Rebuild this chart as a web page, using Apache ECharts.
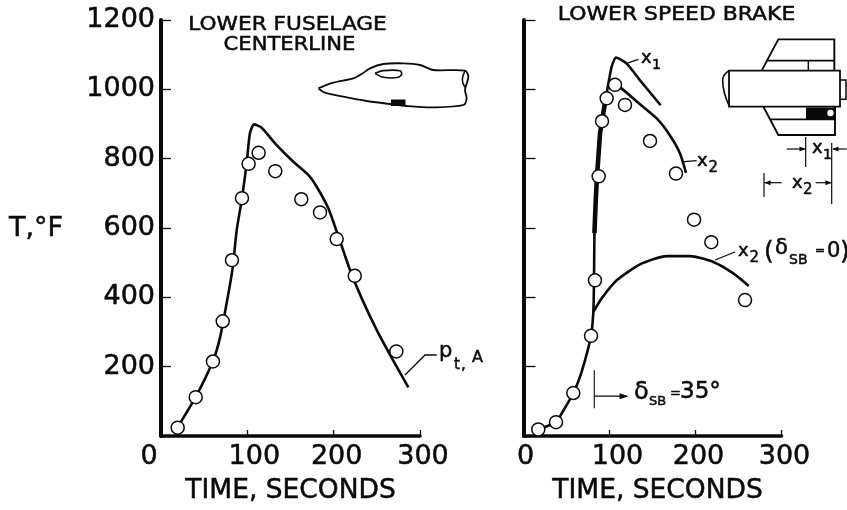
<!DOCTYPE html>
<html><head><meta charset="utf-8">
<style>html,body{margin:0;padding:0;background:#fff}#c{width:847px;height:510px}</style>
<script src="https://cdn.jsdelivr.net/npm/echarts@6/dist/echarts.min.js"></script>
</head><body><div id="c"></div>
<script>
// ---- data ----
const xTicks = [0, 100, 200, 300];
const yTicks = [0, 200, 400, 600, 800, 1000, 1200];

const fuselageCurveTime = [19,40,60,68.3,76.7,83,87.7,93.8,99.2,103,107.7,116.6,134,153.3,170.6,180.3,193.8,204.2,218.9,232.5,249.8,265.3,286.5];
const fuselageCurveTemp = [24,112,215,283,392,485,594,686,786,873,899,889,839,791,753,719,657,585,479,397,306,234,140];
const fuselagePointTime = [19.3,40.2,60.2,71.5,82.2,93.8,101.5,113.1,132.4,162.5,184.2,203.5,224.4,272.6];
const fuselagePointTemp = [24,112,215,331,507,686,785,817,764,683,645,568,462,244];

const riseTime = [17,38,44.4,58,67.6,78.5,81.2,82,82.5,84,85.5,89,96];
const riseTemp = [19,40,65,124,185,289,358,449,585,680,750,873,978];
const thickTime = [82.5,84,85.5,89,95];
const thickTemp = [585,680,750,873,965];
const x1Time = [96,102.5,107.6,120,135.5,159.5];
const x1Temp = [978,1065,1092,1074,1026,954];
const x2Time = [100,106.4,114.2,135.5,154.9,170.3,182,189];
const x2Temp = [1000,1013,1002,957,916,867,815,759];
const x2NoBrakeTime = [81.2,90.9,108.4,135.5,166.5,193.6,220.7,244,261.9];
const x2NoBrakeTemp = [358,397,449,495,519,519,502,469,433];
const brakePointTime = [17.2,37.8,57.9,78.5,83.1,87.4,91.3,96.7,106.4,118,147.1,177.3,198.3,218.4,257.6];
const brakePointTemp = [19,40,124,289,449,749,908,974,1013,955,851,757,624,559,392];
const brakeDeployMarkTime = [82.3,82.3];
const brakeDeployMarkTemp = [190,80];
const brakeArrowTime = [82.3,120];
const brakeArrowTemp = [115,115];

const zip = (a,b)=>a.map((v,i)=>[v,b[i]]);
const FONT = '"DejaVu Sans"';
const INK = '#0a0a0a';

const leftXShift = {0:-12,100:7,200:3,300:3};
const rightXShift = {0:2,100:8,200:3,300:3};
function xAxisFor(idx, shift, nameShift){
  const rich = {};
  xTicks.forEach(v=>{
    const s = shift[v]*2;
    rich['t'+v] = {fontFamily:FONT,fontSize:27,color:INK,textBorderColor:INK,textBorderWidth:0.5,
      padding:s>0?[0,0,0,s]:[0,-s,0,0]};
  });
  return {gridIndex:idx,type:'value',min:0,max:300,interval:100,
    axisLine:{show:true,onZero:false,lineStyle:{color:INK,width:3.5}},
    axisTick:{show:true,inside:true,length:6,lineStyle:{color:INK,width:1.3}},
    splitLine:{show:false},
    axisLabel:{margin:7,formatter:v=>'{t'+v+'|'+v+'}',rich:rich,showMinLabel:true,showMaxLabel:true},
    name:'TIME, SECONDS',nameLocation:'middle',nameGap:42,
    nameTextStyle:{fontFamily:FONT,fontSize:26.5,color:INK,textBorderColor:INK,textBorderWidth:0.5,padding:[0,0,0,nameShift]}};
}
function yAxisFor(idx, labels, tick){
  return {gridIndex:idx,type:'value',min:0,max:1200,interval:200,
    axisLine:{show:true,onZero:false,lineStyle:{color:INK,width:4}},
    axisTick:{show:true,inside:true,length:tick,lineStyle:{color:INK,width:1.3}},
    splitLine:{show:false},
    axisLabel:{show:labels,margin:6,fontFamily:FONT,fontSize:27,color:INK,textBorderColor:INK,textBorderWidth:0.5,
      formatter:v=>yTicks.includes(v)&&v!==0?String(v):''}};
}
const lineS=(x,d,w,z)=>({type:'line',xAxisIndex:x,yAxisIndex:x,data:d,symbol:'none',smooth:0.2,
  lineStyle:{color:INK,width:w||2.6},z:z||3,silent:true});
const pointS=(x,d)=>({type:'scatter',xAxisIndex:x,yAxisIndex:x,data:d,symbol:'circle',symbolSize:13,
  itemStyle:{color:'#fff',borderColor:INK,borderWidth:1.5,opacity:1},z:6,silent:true});

// ---- line-art illustration helpers ----
const P=(pts,ox,oy)=>pts.map(p=>[ox+p[0]/3,oy+p[1]/3]);
const pl=(pts,w,smooth,fill)=>({type:'polyline',shape:{points:pts,smooth:smooth||0},
  style:{stroke:INK,lineWidth:w||1.6,fill:fill||null},z:10,silent:true});
const tx=(x,y,text,size,align,sx)=>({type:'text',x:x,y:y,z:11,silent:true,scaleX:sx||1,
  style:{text:text,fontFamily:FONT,fontSize:size,fill:INK,stroke:INK,lineWidth:0.5,align:align||'left',verticalAlign:'middle'}});
const rect=(x,y,w,h,fill)=>({type:'rect',shape:{x:x,y:y,width:w,height:h},style:{fill:fill||'#fff',stroke:fill?null:INK,lineWidth:1.8},z:10,silent:true});
const arrow=(x,y,dir)=>({type:'polygon',shape:{points:[[x,y],[x-dir*6,y-2.5],[x-dir*6,y+2.5]]},style:{fill:INK},z:11,silent:true});

const graphic=[
  tx(9,229,'T,°F',27),
  tx(287.5,25.5,'LOWER FUSELAGE',19,'center',1.14),
  tx(289.5,45,'CENTERLINE',19,'center',1.11),
  tx(676.5,15,'LOWER SPEED BRAKE',19,'center',1.153),
  // side-view aircraft
  pl(P([[955,265],[1000,248],[1060,235],[1085,222],[1110,205],[1150,192],[1210,190],[1260,195],[1300,210],[1395,212],[1405,230],[1395,270],[1400,295],[1390,315],[1300,322],[1220,318],[1170,312],[1100,303],[1030,290],[975,278],[955,265]],0,0),1.8,0.3),
  pl(P([[1125,220],[1150,212],[1200,212],[1205,222],[1195,232],[1150,232],[1125,220]],0,0),1.6,0.3),
  pl(P([[1395,212],[1387,240],[1395,262]],0,0),1.5,0.4),
  rect(391,99.5,14.5,6.5,INK),
  // top-view aircraft
  pl(P([[785,212],[835,118],[1003,118],[1003,212]],500,0),1.9),
  pl(P([[800,182],[1003,182]],500,0),1.6),
  pl(P([[925,182],[925,212]],500,0),1.5),
  pl(P([[790,320],[835,405],[1005,405],[1005,320]],500,0),1.9),
  pl(P([[812,358],[1005,358]],500,0),1.6),
  rect(729,70.7,111,36),
  pl(P([[687,212],[668,240],[687,316]],500,0),1.6,0.5),
  pl(P([[1020,240],[1038,240],[1038,298],[1020,298]],500,0),1.5),
  rect(806,107.5,30,12,INK),
  {type:'circle',shape:{cx:830.5,cy:113,r:3.2},style:{fill:'#fff'},z:12,silent:true},
  // dimension marks
  pl([[805.7,137],[805.7,167]],1.2),
  pl([[831.7,143],[831.7,204]],1.2),
  pl([[764,173],[764,197]],1.2),
  pl([[786.7,149],[805,149]],1.2), arrow(805.5,149,1),
  pl([[846.7,149],[833,149]],1.2), arrow(832.5,149,-1),
  pl([[764.5,182.7],[781.7,182.7]],1.2), arrow(764.5,182.7,-1),
  pl([[815.7,182.7],[831,182.7]],1.2), arrow(831.5,182.7,1),
  // leaders
  pl(P([[380,190],[415,178]],500,0),1.3),
  pl(P([[552,485],[590,482]],500,0),1.3),
  pl([[715,260],[735,252]],1.3),
  pl([[405,375],[425,355],[436.7,355]],1.3),
  // curve labels
  tx(641,58,'x',18), tx(652,65,'1',14),
  tx(697,161,'x',18), tx(708.5,168,'2',15),
  tx(738,251,'x',18), tx(749.5,258,'2',15),
  tx(764,252,'(',25),
  tx(775,249,'δ',21),
  tx(789,260,'SB',14),
  tx(815,251,'=',12),
  tx(827,252,'0',21),
  tx(840,252,')',25),
  tx(812,148,'x',18), tx(823,155,'1',14),
  tx(792,183,'x',18), tx(803,190,'2',15),
  tx(439,352,'p',21),
  tx(454,365,'t',15),
  tx(461,365,',',15),
  tx(472,358,'A',16),
  tx(634,393,'δ',24),
  tx(649,402,'SB',13),
  tx(670,394,'=',13),
  tx(680,392,'35°',23),
];

const chart=echarts.init(document.getElementById('c'),null,{renderer:'canvas'});
chart.setOption({
  animation:false,backgroundColor:'#fff',
  grid:[{left:161,right:427,top:20,bottom:74,containLabel:false,outerBoundsMode:'none'},
        {left:523.5,right:65.5,top:20,bottom:74,containLabel:false,outerBoundsMode:'none'}],
  xAxis:[xAxisFor(0,leftXShift,0),xAxisFor(1,rightXShift,10)],
  yAxis:[yAxisFor(0,true,10),yAxisFor(1,false,12)],
  series:[
    lineS(0,zip(fuselageCurveTime,fuselageCurveTemp)),
    pointS(0,zip(fuselagePointTime,fuselagePointTemp)),
    lineS(1,zip(riseTime,riseTemp)),
    Object.assign(lineS(1,zip(thickTime,thickTemp),4.6),{smooth:false}),
    lineS(1,zip(x1Time,x1Temp)),
    lineS(1,zip(x2Time,x2Temp)),
    lineS(1,zip(x2NoBrakeTime,x2NoBrakeTemp)),
    Object.assign(lineS(1,zip(brakeDeployMarkTime,brakeDeployMarkTemp),1.1),{smooth:false}),
    Object.assign(lineS(1,zip(brakeArrowTime,brakeArrowTemp),1.1),{smooth:false,
      markPoint:{silent:true,symbol:'triangle',symbolSize:[6,9],symbolRotate:-90,itemStyle:{color:INK},label:{show:false},
        data:[{coord:[brakeArrowTime[1]-3,brakeArrowTemp[1]]}]}}),
    pointS(1,zip(brakePointTime,brakePointTemp)),
  ],
  graphic:graphic
});
</script></body></html>
